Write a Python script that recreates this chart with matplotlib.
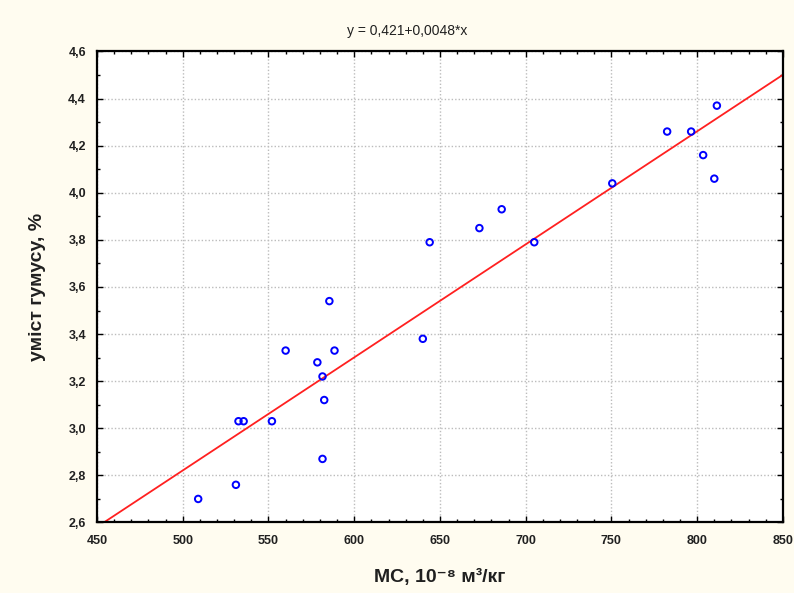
import matplotlib
matplotlib.use("Agg")
import matplotlib.pyplot as plt
from matplotlib.ticker import MultipleLocator, FuncFormatter
import numpy as np

# Data
ms = [509, 531, 532.5, 535.5, 552, 560, 578.5, 581.5, 582.5, 581.5, 585.5, 588.5,
      640, 644, 673, 686, 705, 750.5, 782.5, 796.5, 803.5, 810, 811.5]
humus = [2.70, 2.76, 3.03, 3.03, 3.03, 3.33, 3.28, 3.22, 3.12, 2.87, 3.54, 3.33,
         3.38, 3.79, 3.85, 3.93, 3.79, 4.04, 4.26, 4.26, 4.16, 4.06, 4.37]
intercept = 0.421
slope = 0.0048
xlim = (450, 850)
ylim = (2.6, 4.6)

bg = "#fffcf0"
plt.rcParams['font.family'] = ['Liberation Sans', 'DejaVu Sans']

fig = plt.figure(figsize=(7.94, 5.93), dpi=100, facecolor=bg)
ax = fig.add_axes([0.1222, 0.1189, 0.8638, 0.7943])
ax.set_facecolor("white")

xs = np.array(xlim, dtype=float)
ax.plot(xs, intercept + slope * xs, color="#ff2020", lw=1.3, zorder=2)
ax.scatter(ms, humus, s=22, facecolors="none", edgecolors="#0000ff", linewidths=1.4, zorder=3)

ax.set_xlim(*xlim)
ax.set_ylim(*ylim)
ax.xaxis.set_major_locator(MultipleLocator(50))
ax.xaxis.set_minor_locator(MultipleLocator(10))
ax.yaxis.set_major_locator(MultipleLocator(0.2))
ax.yaxis.set_minor_locator(MultipleLocator(0.1))
ax.yaxis.set_major_formatter(FuncFormatter(lambda v, p: f"{v:.1f}".replace(".", ",")))
ax.grid(True, which="major", color="#bcbcbc", linestyle=(0, (1, 1.5)), lw=1.0, zorder=0)

ax.tick_params(which="both", direction="in", top=True, right=True, color="black")
ax.tick_params(which="major", length=4, width=1, labelsize=9)
ax.tick_params(axis="x", which="major", pad=9)
ax.tick_params(axis="y", which="major", pad=8)
ax.tick_params(which="minor", length=2.5, width=1)
for lab in ax.get_xticklabels() + ax.get_yticklabels():
    lab.set_fontweight("bold")
    lab.set_color("#202020")
for sp in ax.spines.values():
    sp.set_linewidth(1.6)
    sp.set_color("black")

ax.set_xlabel("МС, 10⁻⁸ м³/кг", fontsize=14, fontweight="bold", color="#202020", labelpad=16)
ax.set_ylabel("умiст гумусу, %", fontsize=14, fontweight="bold", color="#202020", labelpad=16)
fig.text(0.513, 0.948, "y = 0,421+0,0048*x", fontsize=10, color="#202020",
         ha="center", va="center")

fig.savefig("out.png", dpi=100, facecolor=bg)
